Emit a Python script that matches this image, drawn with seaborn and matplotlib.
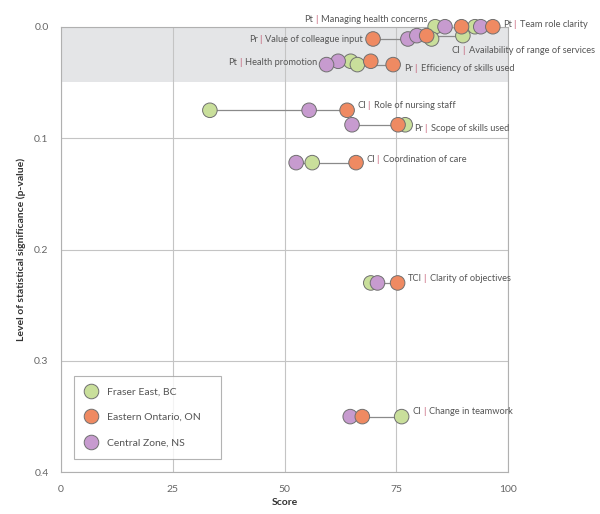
import numpy as np
import pandas as pd
import seaborn as sns
import matplotlib.pyplot as plt

# values
items = ["Managing health concerns", "Team role clarity", "Value of colleague input",
         "Availability of range of services", "Health promotion", "Efficiency of skills used",
         "Role of nursing staff", "Scope of skills used", "Coordination of care",
         "Clarity of objectives", "Change in teamwork"]
prefixes = ["Pt", "Pt", "Pr", "CI", "Pt", "Pr", "CI", "Pr", "CI", "TCI", "CI"]
p_values = [0.0, 0.0, 0.011, 0.008, 0.031, 0.034, 0.075, 0.088, 0.122, 0.230, 0.350]
fraser_east = [83.7, 92.6, 82.9, 89.9, 64.8, 66.3, 33.3, 77.0, 56.2, 69.3, 76.2]
eastern_ontario = [89.6, 96.6, 69.8, 81.8, 69.3, 74.3, 64.0, 75.4, 66.0, 75.3, 67.4]
central_zone = [85.9, 93.9, 77.6, 79.6, 62.0, 59.4, 55.5, 65.1, 52.6, 70.8, 64.7]
regions = ["Fraser East, BC", "Eastern Ontario, ON", "Central Zone, NS"]
x_ticks = [0, 25, 50, 75, 100]
y_ticks = [0.0, 0.1, 0.2, 0.3, 0.4]

# label placement: side of the dumbbell, offset in pixels (dx, dy up)
label_pos = {
    "Managing health concerns": ("left", -8, 7.5),
    "Team role clarity": ("right", 10, 2.5),
    "Value of colleague input": ("left", -10, -1),
    "Availability of range of services": ("right", -11, -15),
    "Health promotion": ("left", -21, -1),
    "Efficiency of skills used": ("right", 11, -4),
    "Role of nursing staff": ("right", 10, 5),
    "Scope of skills used": ("right", 9, -4),
    "Coordination of care": ("right", 10, 3),
    "Clarity of objectives": ("right", 10, 4),
    "Change in teamwork": ("right", 11, 5),
}

colors = {"Fraser East, BC": "#c9df9b", "Eastern Ontario, ON": "#ef8a62",
          "Central Zone, NS": "#c79bcf"}
text_color = "#555555"
pipe_color = "#c0506a"
fs = 6.7

sns.set_style("white")
plt.rcParams['font.family'] = ['Lato', 'DejaVu Sans']

wide = pd.DataFrame({"item": items, "p": p_values,
                     "Fraser East, BC": fraser_east,
                     "Eastern Ontario, ON": eastern_ontario,
                     "Central Zone, NS": central_zone})
df = wide.melt(id_vars=["item", "p"], value_vars=regions,
               var_name="region", value_name="score")
# drawing order: green, purple, orange on top
draw_order = {"Fraser East, BC": 0, "Central Zone, NS": 1, "Eastern Ontario, ON": 2}
df = df.sort_values("region", key=lambda s: s.map(draw_order), kind="stable")

fig, ax = plt.subplots(figsize=(6, 5.14), dpi=100)
fig.subplots_adjust(left=0.1017, right=0.8467, top=0.948, bottom=0.0811)

ax.axhspan(0, 0.05, color="#e4e5e7", zorder=0, lw=0)

sns.lineplot(data=df, x="score", y="p", units="item", estimator=None,
             color="#8a8a8a", lw=0.9, legend=False, zorder=2, ax=ax)
sns.scatterplot(data=df, x="score", y="p", hue="region", hue_order=regions,
                palette=colors, s=110, edgecolor="#707070", linewidth=0.7,
                zorder=3, clip_on=False, ax=ax)

ax.set_xlim(0, 100)
ax.set_ylim(0.4, 0.0)
ax.set_xticks(x_ticks)
ax.set_yticks(y_ticks)
ax.set_xticklabels([str(t) for t in x_ticks])
ax.set_yticklabels([f"{t:.1f}" for t in y_ticks])
ax.tick_params(length=0, labelsize=7.5, labelcolor="#666666", pad=9)
ax.grid(True, color="#c4c4c4", lw=0.8)
ax.set_axisbelow(True)
for sp in ax.spines.values():
    sp.set_color("#b0b0b0")
    sp.set_linewidth(0.8)

ax.set_xlabel("Score", fontsize=7.5, fontweight="bold", color="#333333")
ax.set_ylabel("Level of statistical significance (p-value)", fontsize=7.5,
              fontweight="bold", color="#333333")
ax.xaxis.set_label_coords(0.5, -0.058)
ax.yaxis.set_label_coords(-0.078, 0.5)

# labels: "prefix | name" with coloured pipe, chained text pieces
kw = dict(fontsize=fs, color=text_color, textcoords="offset points")
for i, name in enumerate(items):
    side, dx, dy = label_pos[name]
    vals = [fraser_east[i], eastern_ontario[i], central_zone[i]]
    if side == "right":
        x = max(vals)
        t = ax.annotate(prefixes[i], (x, p_values[i]), xytext=(dx * 0.72, dy * 0.72),
                        ha="left", va="center", **kw)
        t = ax.annotate("|", (1, 0), xycoords=t, xytext=(1.1, 0), ha="left", va="bottom",
                        fontsize=fs, color=pipe_color, textcoords="offset points")
        ax.annotate(name, (1, 0), xycoords=t, xytext=(3.0, 0), ha="left",
                    va="bottom", **kw)
    else:
        x = min(vals)
        t = ax.annotate(name, (x, p_values[i]), xytext=(dx * 0.72, dy * 0.72),
                        ha="right", va="center", **kw)
        t = ax.annotate("|", (0, 0), xycoords=t, xytext=(-2.4, 0), ha="right",
                        va="bottom", fontsize=fs, color=pipe_color,
                        textcoords="offset points")
        ax.annotate(prefixes[i], (0, 0), xycoords=t, xytext=(-1.4, 0), ha="right",
                    va="bottom", **kw)

sns.move_legend(ax, "lower left", bbox_to_anchor=(0.029, 0.03, 0.329, 0.2),
                mode="expand", title=None, frameon=True, fancybox=False,
                edgecolor="#a0a0a0", fontsize=7.5, labelspacing=1.55,
                borderpad=1.1, handlelength=1.1, handletextpad=1.0, borderaxespad=0)
leg = ax.get_legend()
leg.get_frame().set_linewidth(0.8)
for txt in leg.get_texts():
    txt.set_color(text_color)

plt.savefig("out.png", dpi=100)
